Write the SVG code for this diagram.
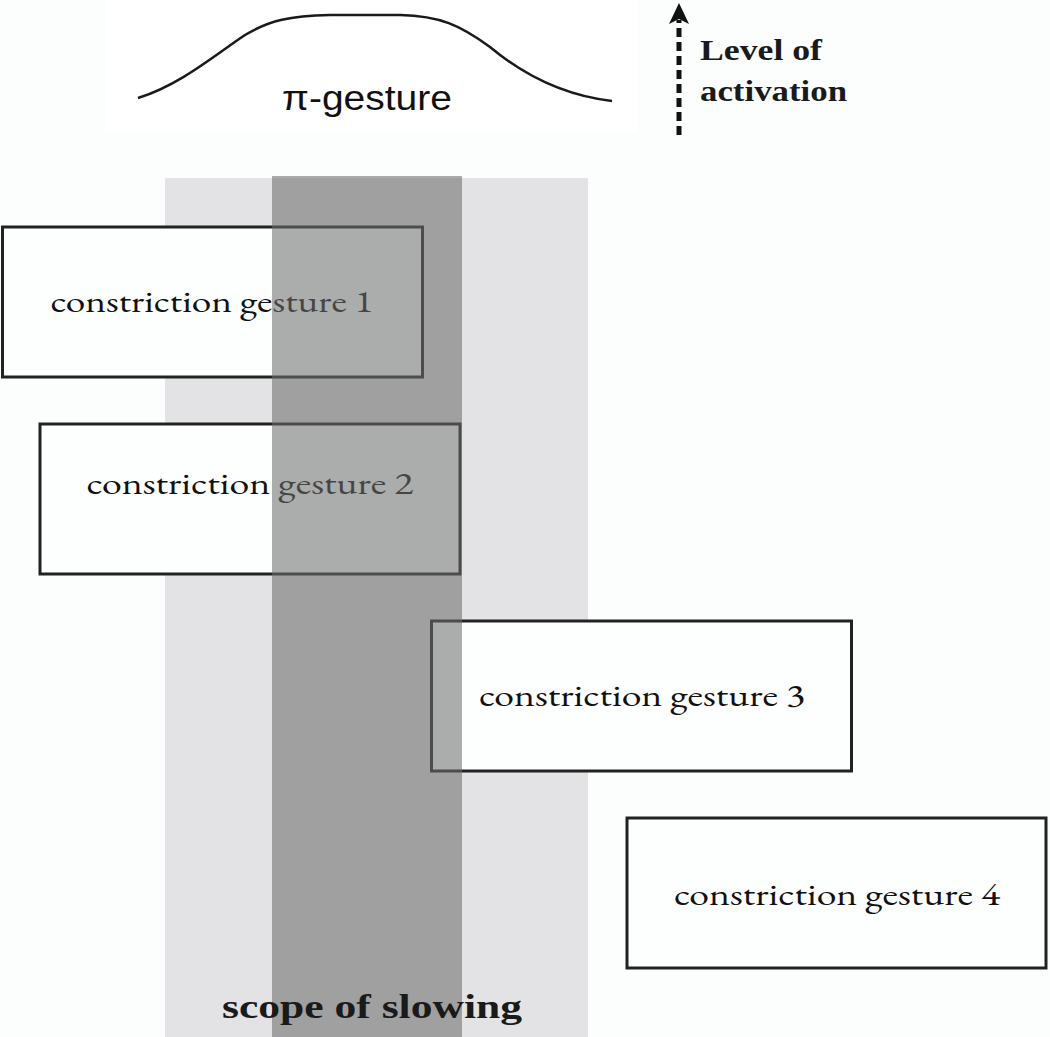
<svg xmlns="http://www.w3.org/2000/svg" width="1050" height="1037" viewBox="0 0 1050 1037">
<defs>
<style>
.box{fill:#fdfefe;stroke:#222;stroke-width:3}
.lbl{font-family:"EB Garamond","Liberation Serif",serif;font-size:30px;fill:#111}
.bold{font-family:"Liberation Serif",serif;font-weight:bold;fill:#1a1a1a}
</style>
</defs>
<rect x="0" y="0" width="1050" height="1037" fill="#fcfdfd"/>
<rect x="105" y="0" width="532" height="132" fill="#ffffff"/>
<g id="pi-gesture">
<path d="M138,98 C180,85 215,55 245,35 C270,20 290,16 330,15 L400,15 C440,16 460,25 490,47 C520,72 560,95 612,101" fill="none" stroke="#1a1a1a" stroke-width="2.5"/>
<text x="282" y="110" font-family="Liberation Sans,Arial,sans-serif" font-size="35" fill="#111" textLength="170" lengthAdjust="spacingAndGlyphs">π-gesture</text>
</g>
<g id="activation">
<line x1="679" y1="135" x2="679" y2="20" stroke="#111" stroke-width="5" stroke-dasharray="9,5"/>
<path d="M669,24 L679,3 L689,24 L679,19 z" fill="#111"/>
<text class="bold" x="700" y="60" font-size="30" textLength="122" lengthAdjust="spacingAndGlyphs">Level of</text>
<text class="bold" x="700" y="101" font-size="30" textLength="147" lengthAdjust="spacingAndGlyphs">activation</text>
</g>
<g id="scope-light">
<rect x="165" y="178" width="423" height="859" fill="#e3e3e5"/>
</g>
<g id="gesture1">
<rect class="box" x="2.5" y="227" width="420" height="150"/>
<text class="lbl" x="212" y="312" text-anchor="middle" textLength="323" lengthAdjust="spacingAndGlyphs">constriction gesture 1</text>
</g>
<g id="gesture2">
<rect class="box" x="40" y="424" width="420" height="150"/>
<text class="lbl" x="250" y="494" text-anchor="middle" textLength="327" lengthAdjust="spacingAndGlyphs">constriction gesture 2</text>
</g>
<g id="gesture3">
<rect class="box" x="431.5" y="621" width="420" height="150"/>
<text class="lbl" x="642" y="706" text-anchor="middle" textLength="326" lengthAdjust="spacingAndGlyphs">constriction gesture 3</text>
</g>
<g id="gesture4">
<rect class="box" x="627" y="818" width="419" height="150" stroke-width="4"/>
<text class="lbl" x="837" y="905" text-anchor="middle" textLength="326" lengthAdjust="spacingAndGlyphs">constriction gesture 4</text>
</g>
<g id="scope-dark">
<rect x="272" y="176" width="190" height="861" fill="#6d6d6d" fill-opacity="0.57"/>
</g>
<g id="scope-label">
<text class="bold" x="372" y="1018" font-size="34" text-anchor="middle" textLength="300" lengthAdjust="spacingAndGlyphs">scope of  slowing</text>
</g>
<g id="connectors"></g>
</svg>
